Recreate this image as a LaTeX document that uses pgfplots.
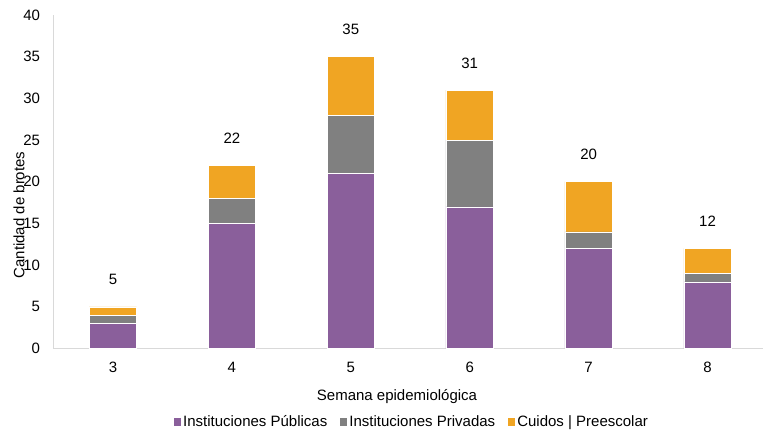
\documentclass[border=0pt]{standalone}
\usepackage{pgfplots}
\pgfplotsset{compat=1.18}
\usepackage{fontspec}
\setmainfont{Liberation Sans}
\definecolor{pub}{HTML}{8A5F9B}
\definecolor{priv}{HTML}{808080}
\definecolor{cui}{HTML}{F0A523}
\definecolor{axl}{HTML}{D9D9D9}
\begin{document}
\begin{tikzpicture}[x=1pt,y=1pt]
\path[use as bounding box] (-53.5,-86.5) rectangle (709.5,348.5);
\begin{axis}[
  at={(0,0)}, anchor=south west,
  scale only axis, width=713.5pt, height=333.5pt,
  ybar stacked, bar width=0.4,
  xmin=-0.5, xmax=5.5, ymin=0, ymax=40,
  xtick=data, xticklabels={3,4,5,6,7,8},
  ytick={0,5,...,40},
  axis lines*=left,
  axis line style={draw=axl, line width=1pt},
  major tick length=0pt,
  /pgf/number format/assume math mode=true,
  ticklabel style={font=\fontsize{15}{17}\selectfont},
  yticklabel style={xshift=-10pt},
  xticklabel style={yshift=-10pt},
  xlabel={Semana epidemiológica},
  xlabel style={font=\fontsize{15}{17}\selectfont, at={(axis description cs:0.48146,-0.14543)}, anchor=center},
  ylabel={Cantidad de brotes},
  ylabel style={font=\fontsize{15}{17}\selectfont, at={(axis description cs:-0.04835,0.4003)}, anchor=center},
  legend style={draw=none, font=\fontsize{15}{17}\selectfont, legend columns=-1,
    at={(axis description cs:0.50105,-0.22039)}, anchor=center,
    nodes={inner sep=1.5pt},
    /tikz/every even column/.append style={column sep=10pt}},
  legend image code/.code={\fill[#1] (0pt,-4.25pt) rectangle (8.5pt,4.25pt);},
  legend cell align=left,
]
\addplot[fill=pub, draw=white, line width=0.5pt] coordinates {(0,3) (1,15) (2,21) (3,17) (4,12) (5,8)};
\addlegendentry{Instituciones Públicas}
\addplot[fill=priv, draw=white, line width=0.5pt] coordinates {(0,1) (1,3) (2,7) (3,8) (4,2) (5,1)};
\addlegendentry{Instituciones Privadas}
\addplot[fill=cui, draw=white, line width=0.5pt] coordinates {(0,1) (1,4) (2,7) (3,6) (4,6) (5,3)};
\addlegendentry{Cuidos | Preescolar}
\end{axis}
\begin{axis}[
  at={(0,0)}, anchor=south west,
  scale only axis, width=713.5pt, height=333.5pt,
  xmin=-0.5, xmax=5.5, ymin=0, ymax=40,
  hide axis,
  /pgf/number format/assume math mode=true,
]
\addplot[draw=none, mark=none, nodes near coords,
  every node near coord/.append style={font=\fontsize{15}{17}\selectfont, anchor=center, yshift=27pt, text=black}]
  coordinates {(0,5) (1,22) (2,35) (3,31) (4,20) (5,12)};
\end{axis}
\end{tikzpicture}
\end{document}
